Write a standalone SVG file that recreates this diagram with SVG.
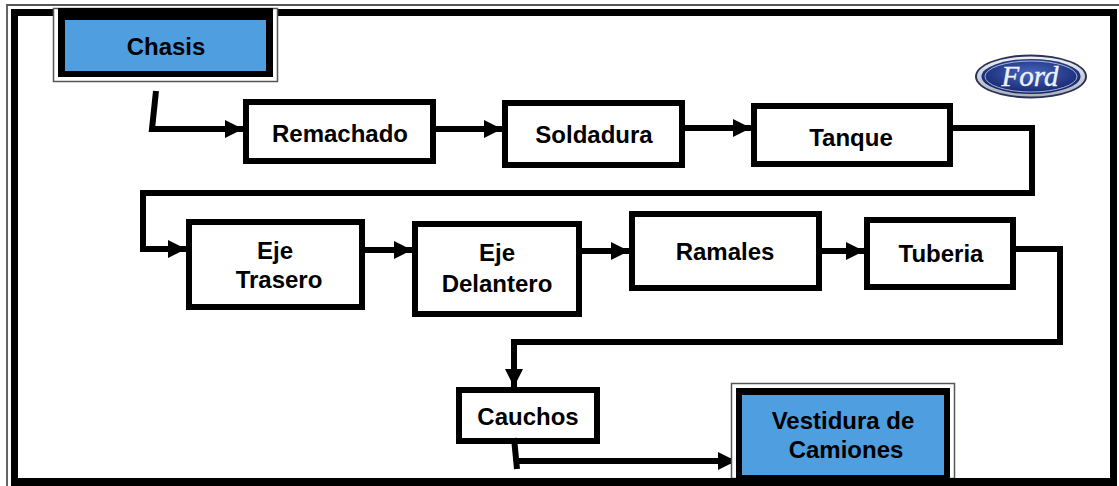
<svg xmlns="http://www.w3.org/2000/svg" width="1119" height="486" viewBox="0 0 1119 486">
<defs>
<marker id="a" markerUnits="userSpaceOnUse" markerWidth="19" markerHeight="20" refX="18" refY="10" orient="auto"><path d="M0 1L18 10L0 19Z" fill="#000"/></marker>
<radialGradient id="fb" cx="50%" cy="40%" r="65%"><stop offset="0" stop-color="#4665bd"/><stop offset="1" stop-color="#101f66"/></radialGradient>
<linearGradient id="fr" x1="0" y1="0" x2="0" y2="1"><stop offset="0" stop-color="#eef0f5"/><stop offset="1" stop-color="#aab0bd"/></linearGradient>
</defs>
<style>
.b{fill:#fff;stroke:#000;stroke-width:6}
.c{fill:none;stroke:#000;stroke-width:6}
.o{fill:#fff;stroke:#555;stroke-width:1.5}
.d{fill:#000}
.f{fill:#4f9ee0}
text{font-family:"Liberation Sans",Arial,sans-serif;font-weight:bold;font-size:24px;fill:#000;text-anchor:middle}
</style>
<rect width="1119" height="486" fill="#fff"/>
<g id="frame">
<path d="M7 486V5H1119" fill="none" stroke="#555" stroke-width="1.800"/>
<path d="M14.500 486V12.500H1113.500V486" fill="none" stroke="#000" stroke-width="7"/>
</g>
<g id="connectors">
<path class="c" d="M156 91L152 129H243" marker-end="url(#a)"/>
<path class="c" d="M435 129H502" marker-end="url(#a)"/>
<path class="c" d="M684 128H751" marker-end="url(#a)"/>
<path class="c" d="M952 128H1032V193H143V249H186" marker-end="url(#a)"/>
<path class="c" d="M365 250H412" marker-end="url(#a)"/>
<path class="c" d="M581 251H629" marker-end="url(#a)"/>
<path class="c" d="M821 251H864" marker-end="url(#a)"/>
<path class="c" d="M1015 249H1060V342H514V387" marker-end="url(#a)"/>
</g>
<g id="chasis">
<rect class="o" x="53.500" y="8.500" width="224" height="73"/>
<rect class="d" x="58" y="8" width="215" height="69"/>
<rect class="f" x="65" y="20" width="201" height="51"/>
<text x="166" y="55">Chasis</text>
</g>
<g id="remachado"><rect class="b" x="246" y="102" width="187" height="59"/><text x="340" y="142">Remachado</text></g>
<g id="soldadura"><rect class="b" x="505" y="103" width="177" height="62"/><text x="594" y="143">Soldadura</text></g>
<g id="tanque"><rect class="b" x="754" y="106" width="196" height="58"/><text x="851" y="146">Tanque</text></g>
<g id="eje-trasero"><rect class="b" x="189" y="222" width="173" height="85"/><text x="275" y="259">Eje</text><text x="279" y="288">Trasero</text></g>
<g id="eje-delantero"><rect class="b" x="415" y="224" width="164" height="90"/><text x="497" y="261">Eje</text><text x="497" y="292">Delantero</text></g>
<g id="ramales"><rect class="b" x="632" y="214" width="187" height="74"/><text x="725" y="260">Ramales</text></g>
<g id="tuberia"><rect class="b" x="867" y="220" width="146" height="67"/><text x="941" y="262">Tuberia</text></g>
<g id="cauchos"><rect class="b" x="459" y="390" width="138" height="51"/><text x="528" y="425">Cauchos</text></g>
<path class="c" d="M514 438L517 469"/>
<path class="c" d="M516 461H736" marker-end="url(#a)"/>
<g id="vestidura">
<rect class="o" x="731.500" y="383.500" width="223" height="95"/>
<rect class="d" x="736" y="388" width="214" height="91"/>
<rect class="f" x="742" y="395" width="202" height="80"/>
<text x="843" y="429">Vestidura de</text>
<text x="846" y="458">Camiones</text>
</g>
<rect id="frame-bottom" x="11" y="478" width="1106" height="8" fill="#000"/>
<g id="logo">
<ellipse cx="1031" cy="76.500" rx="56" ry="22" fill="#2a3350"/>
<ellipse cx="1031" cy="76.500" rx="54" ry="20" fill="url(#fr)"/>
<ellipse cx="1031" cy="76.500" rx="49.500" ry="17.500" fill="url(#fb)"/>
<ellipse cx="1031" cy="76.500" rx="46" ry="15.500" fill="none" stroke="#c9d2e8" stroke-width="0.800"/>
<text x="1030" y="86" style="font-family:'Liberation Serif',serif;font-style:italic;font-weight:normal;font-size:29px;fill:#eef1f8;stroke:#eef1f8;stroke-width:.4">Ford</text>
</g>
</svg>
